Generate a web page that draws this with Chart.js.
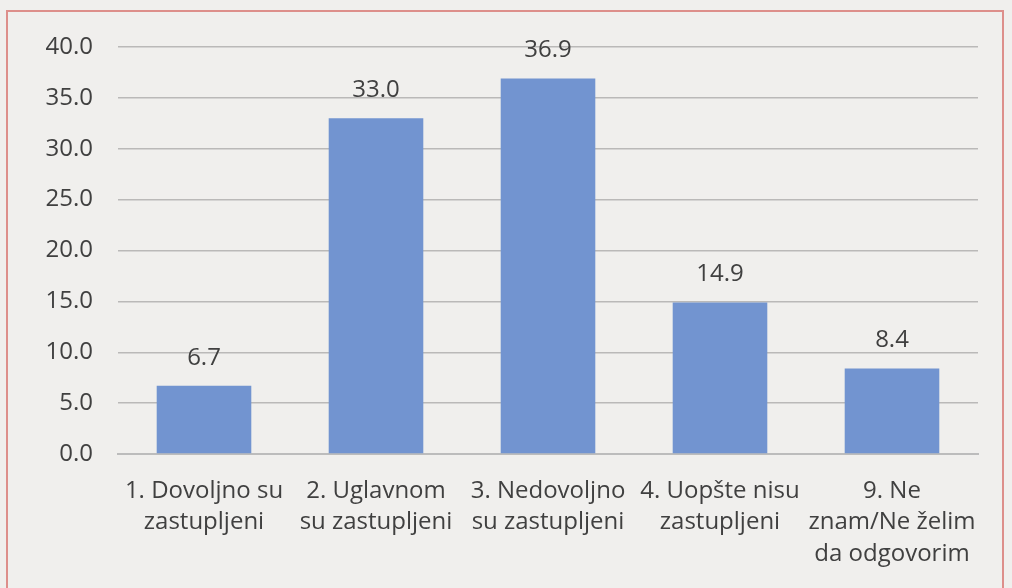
<!DOCTYPE html>
<html>
<head>
<meta charset="utf-8">
<script src="https://cdn.jsdelivr.net/npm/chart.js@4/dist/chart.umd.min.js"></script>
<style>
  html, body { margin: 0; padding: 0; background: #f0efed; }
  #wrap { position: relative; width: 1012px; height: 588px; overflow: hidden; }
  #frame { position: absolute; left: 6px; top: 10px; width: 998px; height: 600px; border: 2px solid #dd8f8b; box-sizing: border-box; }
  canvas { position: absolute; left: 0; top: 0; }
</style>
</head>
<body>
<div id="wrap">
  <div id="frame"></div>
  <canvas id="chart" width="1012" height="588"></canvas>
</div>
<script>
const categories = [
  ['1. Dovoljno su', 'zastupljeni'],
  ['2. Uglavnom', 'su zastupljeni'],
  ['3. Nedovoljno', 'su zastupljeni'],
  ['4. Uopšte nisu', 'zastupljeni'],
  ['9. Ne', 'znam/Ne želim', 'da odgovorim']
];
const values = [6.7, 33.0, 36.9, 14.9, 8.4];
const yMax = 40;
const yStep = 5;

const font = "'Open Sans', 'Noto Sans', sans-serif";

const valueLabels = {
  id: 'valueLabels',
  afterDatasetsDraw(chart) {
    const { ctx } = chart;
    const meta = chart.getDatasetMeta(0);
    ctx.save();
    ctx.fillStyle = '#404040';
    ctx.font = `24px ${font}`;
    ctx.textAlign = 'center';
    ctx.textBaseline = 'bottom';
    meta.data.forEach((bar, i) => {
      ctx.fillText(values[i].toFixed(1), bar.x, bar.y - 16);
    });
    ctx.restore();
  }
};

new Chart(document.getElementById('chart'), {
  type: 'bar',
  data: {
    labels: categories,
    datasets: [{
      data: values,
      backgroundColor: '#7294d0',
      barPercentage: 0.55,
      categoryPercentage: 1
    }]
  },
  options: {
    responsive: false,
    animation: false,
    layout: { padding: { top: 47, right: 34, left: 0, bottom: 0 } },
    plugins: { legend: { display: false }, tooltip: { enabled: false } },
    scales: {
      x: {
        grid: { display: false, drawTicks: false },
        border: { display: true, color: '#bcbcbc', width: 2 },
        ticks: {
          color: '#404040',
          font: { family: font, size: 24, lineHeight: 1.32 },
          padding: 21,
          maxRotation: 0,
          autoSkip: false
        },
        afterFit(scale) { scale.height = 134; }
      },
      y: {
        min: 0,
        max: yMax,
        z: 1,
        grid: { color: 'rgba(120,120,120,0.45)', lineWidth: 1.5, drawTicks: false },
        border: { display: false },
        ticks: {
          stepSize: yStep,
          color: '#404040',
          font: { family: font, size: 24 },
          padding: 25,
          callback: (v) => Number(v).toFixed(1)
        },
        afterFit(scale) { scale.width = 118; }
      }
    }
  },
  plugins: [valueLabels]
});
</script>
</body>
</html>
